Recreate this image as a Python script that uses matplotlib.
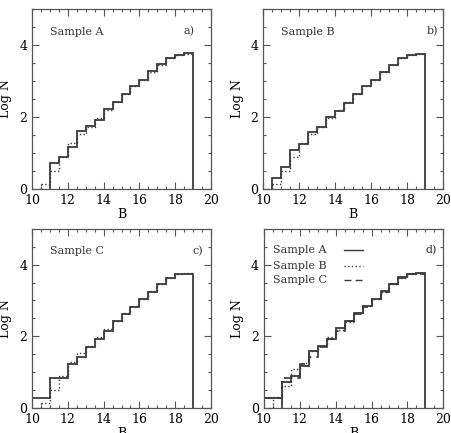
import numpy as np
import matplotlib
matplotlib.use("Agg")
import matplotlib.pyplot as plt
from matplotlib.ticker import MultipleLocator

# bin edges (B magnitude, 0.5 mag bins)
edges_a = np.arange(11.0, 19.01, 0.5)
edges_b = np.arange(10.5, 19.01, 0.5)
edges_c = np.arange(10.0, 19.01, 0.5)
edges_ref = np.arange(10.5, 19.01, 0.5)

# log N per bin
logn_a = [0.71, 0.90, 1.18, 1.60, 1.74, 1.93, 2.22, 2.42, 2.65, 2.85,
          3.03, 3.27, 3.46, 3.65, 3.73, 3.77]
logn_b = [0.30, 0.60, 1.09, 1.26, 1.58, 1.72, 1.99, 2.17, 2.39, 2.64, 2.85,
          3.04, 3.25, 3.45, 3.63, 3.73, 3.76]
logn_c = [0.29, 0.29, 0.84, 0.84, 1.22, 1.42, 1.70, 1.92, 2.15, 2.43, 2.63,
          2.83, 3.03, 3.25, 3.45, 3.63, 3.73, 3.75]
# comparison histogram (dotted) in panels a-c
logn_ref = [0.15, 0.50, 0.88, 1.28, 1.53, 1.72, 1.97, 2.20, 2.42, 2.64, 2.85,
            3.04, 3.26, 3.45, 3.64, 3.73, 3.76]

names = ['Sample A', 'Sample B', 'Sample C']
tags = ['a)', 'b)', 'c)', 'd)']

plt.rcParams['font.family'] = 'DejaVu Serif'
lc = '#3a3a3a'

fig = plt.figure(figsize=(4.51, 4.33), dpi=100)
# axes boxes [left, bottom, width, height] in figure fraction
boxes = [[0.071, 0.5635, 0.397, 0.4157],
         [0.584, 0.5635, 0.399, 0.4157],
         [0.071, 0.058, 0.397, 0.4134],
         [0.585, 0.058, 0.398, 0.4134]]
axs = [fig.add_axes(b) for b in boxes]

def style(ax):
    ax.set_xlim(10, 20)
    ax.set_ylim(0, 5)
    ax.xaxis.set_major_locator(MultipleLocator(2))
    ax.xaxis.set_minor_locator(MultipleLocator(0.5))
    ax.yaxis.set_major_locator(MultipleLocator(2))
    ax.yaxis.set_minor_locator(MultipleLocator(0.5))
    ax.tick_params(which='both', direction='in', top=True, right=True,
                   color='#555555', labelsize=9, width=0.8)
    ax.tick_params(which='major', length=5)
    ax.tick_params(which='minor', length=2.5)
    for s in ax.spines.values():
        s.set_color('#555555')
        s.set_linewidth(0.9)
    ax.set_xlabel('B', fontsize=9, labelpad=1)
    ax.set_ylabel('Log N', fontsize=9, labelpad=5)

def dotted_hist(ax, vals, edges):
    # outline without the right-hand drop (covered by the solid line)
    ax.stairs(vals, edges, baseline=None, color=lc, lw=1.0, ls=':')
    ax.plot([edges[0], edges[0]], [0, vals[0]], color=lc, lw=1.0, ls=':')

data = [(logn_a, edges_a), (logn_b, edges_b), (logn_c, edges_c)]
tagx = [0.91, 0.972, 0.957, 0.965]

for i in range(3):
    ax = axs[i]
    style(ax)
    dotted_hist(ax, logn_ref, edges_ref)
    ax.stairs(data[i][0], data[i][1], baseline=0, color=lc, lw=1.3)
    ax.text(0.10, 0.875, names[i], transform=ax.transAxes, fontsize=8,
            va='center', ha='left', color='#333333')
    ax.text(tagx[i], 0.875, tags[i], transform=ax.transAxes, fontsize=8,
            va='center', ha='right', color='#333333')

# panel d: all three samples together
ax = axs[3]
style(ax)
ax.stairs(logn_c, edges_c, baseline=None, color=lc, lw=1.2, ls=(0, (5, 3)))
dotted_hist(ax, logn_b, edges_b)
ax.stairs(logn_a, edges_a, baseline=0, color=lc, lw=1.3)
ax.stairs(logn_c[:2], edges_c[:3], baseline=None, color=lc, lw=1.3)
styles = ['-', ':', (0, (5, 3))]
ys = [0.882, 0.795, 0.715]
for n, s, y in zip(names, styles, ys):
    ax.text(0.052, y, n, transform=ax.transAxes, fontsize=8,
            va='center', ha='left', color='#333333')
    ax.plot([0.449, 0.55], [y, y], transform=ax.transAxes, color=lc,
            lw=1.0, ls=s)
ax.text(tagx[3], 0.882, tags[3], transform=ax.transAxes, fontsize=8,
        va='center', ha='right', color='#333333')

fig.savefig('out.png', dpi=100)
